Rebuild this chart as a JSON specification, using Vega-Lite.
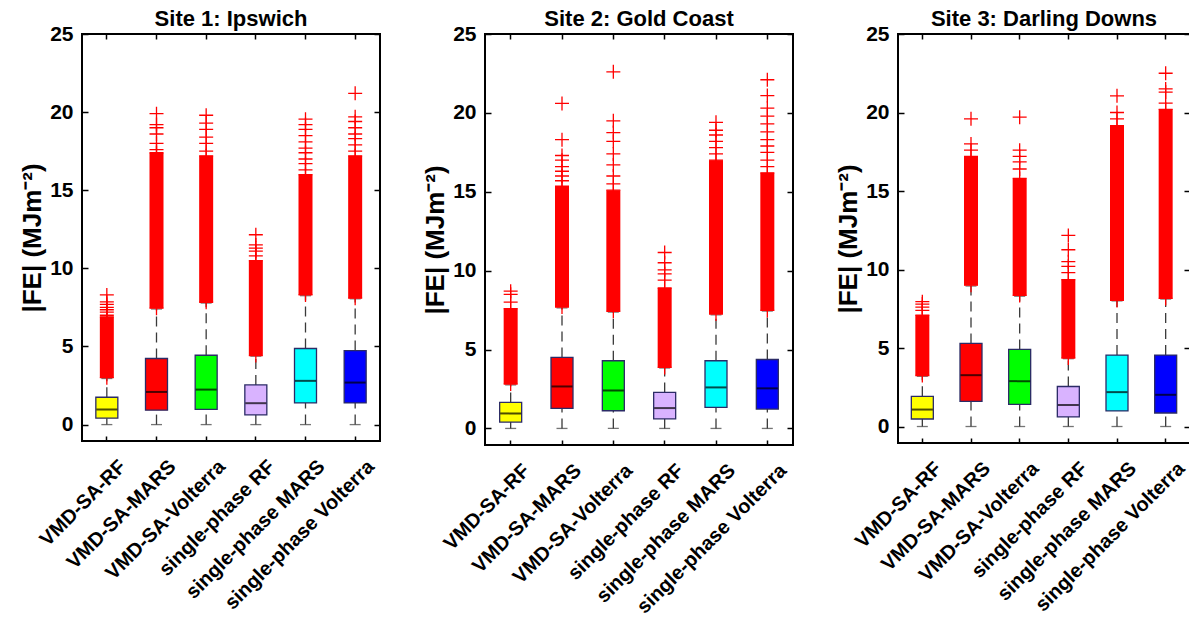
{
  "$schema": "https://vega.github.io/schema/vega-lite/v6.json",
  "padding": {"left": 18, "top": 7, "right": 0, "bottom": 0},
  "spacing": 39,
  "background": "white",
  "datasets": {
    "stats": [
      {"site": "Site 1: Ipswich", "model": "VMD-SA-RF", "lo": 0, "q1": 0.41, "med": 0.96, "q3": 1.75, "whi": 2.95, "olo": 3.0, "ohi": 6.9},
      {"site": "Site 1: Ipswich", "model": "VMD-SA-MARS", "lo": 0, "q1": 0.92, "med": 2.09, "q3": 4.23, "whi": 7.4, "olo": 7.45, "ohi": 17.4},
      {"site": "Site 1: Ipswich", "model": "VMD-SA-Volterra", "lo": 0, "q1": 0.98, "med": 2.24, "q3": 4.44, "whi": 7.78, "olo": 7.83, "ohi": 17.2},
      {"site": "Site 1: Ipswich", "model": "single-phase RF", "lo": 0, "q1": 0.62, "med": 1.37, "q3": 2.54, "whi": 4.38, "olo": 4.42, "ohi": 10.5},
      {"site": "Site 1: Ipswich", "model": "single-phase MARS", "lo": 0, "q1": 1.39, "med": 2.8, "q3": 4.87, "whi": 8.25, "olo": 8.3, "ohi": 16.0},
      {"site": "Site 1: Ipswich", "model": "single-phase Volterra", "lo": 0, "q1": 1.39, "med": 2.69, "q3": 4.74, "whi": 8.05, "olo": 8.09, "ohi": 17.2},
      {"site": "Site 2: Gold Coast", "model": "VMD-SA-RF", "lo": 0, "q1": 0.4, "med": 0.95, "q3": 1.65, "whi": 2.76, "olo": 2.81, "ohi": 7.6},
      {"site": "Site 2: Gold Coast", "model": "VMD-SA-MARS", "lo": 0, "q1": 1.27, "med": 2.66, "q3": 4.5, "whi": 7.64, "olo": 7.69, "ohi": 15.35},
      {"site": "Site 2: Gold Coast", "model": "VMD-SA-Volterra", "lo": 0, "q1": 1.12, "med": 2.41, "q3": 4.29, "whi": 7.38, "olo": 7.42, "ohi": 15.1},
      {"site": "Site 2: Gold Coast", "model": "single-phase RF", "lo": 0, "q1": 0.61, "med": 1.29, "q3": 2.28, "whi": 3.83, "olo": 3.87, "ohi": 8.9},
      {"site": "Site 2: Gold Coast", "model": "single-phase MARS", "lo": 0, "q1": 1.33, "med": 2.6, "q3": 4.29, "whi": 7.2, "olo": 7.25, "ohi": 17.0},
      {"site": "Site 2: Gold Coast", "model": "single-phase Volterra", "lo": 0, "q1": 1.23, "med": 2.54, "q3": 4.37, "whi": 7.44, "olo": 7.48, "ohi": 16.2},
      {"site": "Site 3: Darling Downs", "model": "VMD-SA-RF", "lo": 0, "q1": 0.48, "med": 1.08, "q3": 1.92, "whi": 3.2, "olo": 3.25, "ohi": 7.1},
      {"site": "Site 3: Darling Downs", "model": "VMD-SA-MARS", "lo": 0, "q1": 1.6, "med": 3.27, "q3": 5.29, "whi": 8.95, "olo": 9.0, "ohi": 17.2},
      {"site": "Site 3: Darling Downs", "model": "VMD-SA-Volterra", "lo": 0, "q1": 1.41, "med": 2.89, "q3": 4.91, "whi": 8.3, "olo": 8.35, "ohi": 15.8},
      {"site": "Site 3: Darling Downs", "model": "single-phase RF", "lo": 0, "q1": 0.61, "med": 1.37, "q3": 2.55, "whi": 4.32, "olo": 4.36, "ohi": 9.36},
      {"site": "Site 3: Darling Downs", "model": "single-phase MARS", "lo": 0, "q1": 0.99, "med": 2.19, "q3": 4.55, "whi": 8.0, "olo": 8.03, "ohi": 19.17},
      {"site": "Site 3: Darling Downs", "model": "single-phase Volterra", "lo": 0, "q1": 0.86, "med": 2.02, "q3": 4.55, "whi": 8.12, "olo": 8.16, "ohi": 20.2}
    ],
    "outliers": [
      {"site": "Site 1: Ipswich", "model": "VMD-SA-RF", "v": 7.0},
      {"site": "Site 1: Ipswich", "model": "VMD-SA-RF", "v": 7.2},
      {"site": "Site 1: Ipswich", "model": "VMD-SA-RF", "v": 7.35},
      {"site": "Site 1: Ipswich", "model": "VMD-SA-RF", "v": 7.5},
      {"site": "Site 1: Ipswich", "model": "VMD-SA-RF", "v": 7.7},
      {"site": "Site 1: Ipswich", "model": "VMD-SA-RF", "v": 7.85},
      {"site": "Site 1: Ipswich", "model": "VMD-SA-RF", "v": 8.3},
      {"site": "Site 1: Ipswich", "model": "VMD-SA-MARS", "v": 17.6},
      {"site": "Site 1: Ipswich", "model": "VMD-SA-MARS", "v": 18.0},
      {"site": "Site 1: Ipswich", "model": "VMD-SA-MARS", "v": 18.6},
      {"site": "Site 1: Ipswich", "model": "VMD-SA-MARS", "v": 19.0},
      {"site": "Site 1: Ipswich", "model": "VMD-SA-MARS", "v": 19.2},
      {"site": "Site 1: Ipswich", "model": "VMD-SA-MARS", "v": 19.9},
      {"site": "Site 1: Ipswich", "model": "VMD-SA-Volterra", "v": 17.5},
      {"site": "Site 1: Ipswich", "model": "VMD-SA-Volterra", "v": 18.0},
      {"site": "Site 1: Ipswich", "model": "VMD-SA-Volterra", "v": 18.4},
      {"site": "Site 1: Ipswich", "model": "VMD-SA-Volterra", "v": 18.9},
      {"site": "Site 1: Ipswich", "model": "VMD-SA-Volterra", "v": 19.3},
      {"site": "Site 1: Ipswich", "model": "VMD-SA-Volterra", "v": 19.8},
      {"site": "Site 1: Ipswich", "model": "single-phase RF", "v": 10.8},
      {"site": "Site 1: Ipswich", "model": "single-phase RF", "v": 11.1},
      {"site": "Site 1: Ipswich", "model": "single-phase RF", "v": 11.3},
      {"site": "Site 1: Ipswich", "model": "single-phase RF", "v": 11.5},
      {"site": "Site 1: Ipswich", "model": "single-phase RF", "v": 12.15},
      {"site": "Site 1: Ipswich", "model": "single-phase MARS", "v": 16.3},
      {"site": "Site 1: Ipswich", "model": "single-phase MARS", "v": 16.7},
      {"site": "Site 1: Ipswich", "model": "single-phase MARS", "v": 17.0},
      {"site": "Site 1: Ipswich", "model": "single-phase MARS", "v": 17.4},
      {"site": "Site 1: Ipswich", "model": "single-phase MARS", "v": 17.7},
      {"site": "Site 1: Ipswich", "model": "single-phase MARS", "v": 18.1},
      {"site": "Site 1: Ipswich", "model": "single-phase MARS", "v": 18.5},
      {"site": "Site 1: Ipswich", "model": "single-phase MARS", "v": 18.9},
      {"site": "Site 1: Ipswich", "model": "single-phase MARS", "v": 19.2},
      {"site": "Site 1: Ipswich", "model": "single-phase MARS", "v": 19.55},
      {"site": "Site 1: Ipswich", "model": "single-phase Volterra", "v": 17.5},
      {"site": "Site 1: Ipswich", "model": "single-phase Volterra", "v": 17.9},
      {"site": "Site 1: Ipswich", "model": "single-phase Volterra", "v": 18.3},
      {"site": "Site 1: Ipswich", "model": "single-phase Volterra", "v": 18.6},
      {"site": "Site 1: Ipswich", "model": "single-phase Volterra", "v": 19.0},
      {"site": "Site 1: Ipswich", "model": "single-phase Volterra", "v": 19.4},
      {"site": "Site 1: Ipswich", "model": "single-phase Volterra", "v": 19.7},
      {"site": "Site 1: Ipswich", "model": "single-phase Volterra", "v": 21.2},
      {"site": "Site 2: Gold Coast", "model": "VMD-SA-RF", "v": 8.0},
      {"site": "Site 2: Gold Coast", "model": "VMD-SA-RF", "v": 8.5},
      {"site": "Site 2: Gold Coast", "model": "VMD-SA-RF", "v": 8.7},
      {"site": "Site 2: Gold Coast", "model": "VMD-SA-MARS", "v": 15.7},
      {"site": "Site 2: Gold Coast", "model": "VMD-SA-MARS", "v": 16.0},
      {"site": "Site 2: Gold Coast", "model": "VMD-SA-MARS", "v": 16.3},
      {"site": "Site 2: Gold Coast", "model": "VMD-SA-MARS", "v": 16.6},
      {"site": "Site 2: Gold Coast", "model": "VMD-SA-MARS", "v": 17.0},
      {"site": "Site 2: Gold Coast", "model": "VMD-SA-MARS", "v": 17.3},
      {"site": "Site 2: Gold Coast", "model": "VMD-SA-MARS", "v": 18.3},
      {"site": "Site 2: Gold Coast", "model": "VMD-SA-MARS", "v": 20.6},
      {"site": "Site 2: Gold Coast", "model": "VMD-SA-Volterra", "v": 15.5},
      {"site": "Site 2: Gold Coast", "model": "VMD-SA-Volterra", "v": 16.0},
      {"site": "Site 2: Gold Coast", "model": "VMD-SA-Volterra", "v": 16.7},
      {"site": "Site 2: Gold Coast", "model": "VMD-SA-Volterra", "v": 17.4},
      {"site": "Site 2: Gold Coast", "model": "VMD-SA-Volterra", "v": 18.2},
      {"site": "Site 2: Gold Coast", "model": "VMD-SA-Volterra", "v": 18.75},
      {"site": "Site 2: Gold Coast", "model": "VMD-SA-Volterra", "v": 19.5},
      {"site": "Site 2: Gold Coast", "model": "VMD-SA-Volterra", "v": 22.6},
      {"site": "Site 2: Gold Coast", "model": "single-phase RF", "v": 9.4},
      {"site": "Site 2: Gold Coast", "model": "single-phase RF", "v": 9.8},
      {"site": "Site 2: Gold Coast", "model": "single-phase RF", "v": 10.05},
      {"site": "Site 2: Gold Coast", "model": "single-phase RF", "v": 10.5},
      {"site": "Site 2: Gold Coast", "model": "single-phase RF", "v": 11.15},
      {"site": "Site 2: Gold Coast", "model": "single-phase MARS", "v": 17.4},
      {"site": "Site 2: Gold Coast", "model": "single-phase MARS", "v": 17.8},
      {"site": "Site 2: Gold Coast", "model": "single-phase MARS", "v": 18.2},
      {"site": "Site 2: Gold Coast", "model": "single-phase MARS", "v": 18.6},
      {"site": "Site 2: Gold Coast", "model": "single-phase MARS", "v": 18.9},
      {"site": "Site 2: Gold Coast", "model": "single-phase MARS", "v": 19.4},
      {"site": "Site 2: Gold Coast", "model": "single-phase Volterra", "v": 16.6},
      {"site": "Site 2: Gold Coast", "model": "single-phase Volterra", "v": 17.0},
      {"site": "Site 2: Gold Coast", "model": "single-phase Volterra", "v": 17.5},
      {"site": "Site 2: Gold Coast", "model": "single-phase Volterra", "v": 17.9},
      {"site": "Site 2: Gold Coast", "model": "single-phase Volterra", "v": 18.3},
      {"site": "Site 2: Gold Coast", "model": "single-phase Volterra", "v": 18.8},
      {"site": "Site 2: Gold Coast", "model": "single-phase Volterra", "v": 19.3},
      {"site": "Site 2: Gold Coast", "model": "single-phase Volterra", "v": 19.8},
      {"site": "Site 2: Gold Coast", "model": "single-phase Volterra", "v": 20.3},
      {"site": "Site 2: Gold Coast", "model": "single-phase Volterra", "v": 21.1},
      {"site": "Site 2: Gold Coast", "model": "single-phase Volterra", "v": 22.1},
      {"site": "Site 3: Darling Downs", "model": "VMD-SA-RF", "v": 7.4},
      {"site": "Site 3: Darling Downs", "model": "VMD-SA-RF", "v": 7.6},
      {"site": "Site 3: Darling Downs", "model": "VMD-SA-RF", "v": 7.8},
      {"site": "Site 3: Darling Downs", "model": "VMD-SA-RF", "v": 7.95},
      {"site": "Site 3: Darling Downs", "model": "VMD-SA-MARS", "v": 17.6},
      {"site": "Site 3: Darling Downs", "model": "VMD-SA-MARS", "v": 18.0},
      {"site": "Site 3: Darling Downs", "model": "VMD-SA-MARS", "v": 19.6},
      {"site": "Site 3: Darling Downs", "model": "VMD-SA-Volterra", "v": 16.4},
      {"site": "Site 3: Darling Downs", "model": "VMD-SA-Volterra", "v": 16.85},
      {"site": "Site 3: Darling Downs", "model": "VMD-SA-Volterra", "v": 17.2},
      {"site": "Site 3: Darling Downs", "model": "VMD-SA-Volterra", "v": 17.6},
      {"site": "Site 3: Darling Downs", "model": "VMD-SA-Volterra", "v": 19.7},
      {"site": "Site 3: Darling Downs", "model": "single-phase RF", "v": 9.8},
      {"site": "Site 3: Darling Downs", "model": "single-phase RF", "v": 10.2},
      {"site": "Site 3: Darling Downs", "model": "single-phase RF", "v": 10.5},
      {"site": "Site 3: Darling Downs", "model": "single-phase RF", "v": 11.26},
      {"site": "Site 3: Darling Downs", "model": "single-phase RF", "v": 12.17},
      {"site": "Site 3: Darling Downs", "model": "single-phase MARS", "v": 19.6},
      {"site": "Site 3: Darling Downs", "model": "single-phase MARS", "v": 20.0},
      {"site": "Site 3: Darling Downs", "model": "single-phase MARS", "v": 21.06},
      {"site": "Site 3: Darling Downs", "model": "single-phase Volterra", "v": 20.6},
      {"site": "Site 3: Darling Downs", "model": "single-phase Volterra", "v": 21.3},
      {"site": "Site 3: Darling Downs", "model": "single-phase Volterra", "v": 21.5},
      {"site": "Site 3: Darling Downs", "model": "single-phase Volterra", "v": 22.5}
    ]
  },
  "hconcat": [
    {
      "width": 298, "height": 407,
      "title": "Site 1: Ipswich",
      "resolve": {"axis": {"x": "independent", "y": "independent"}},
      "layer": [
        {"data": {"name": "stats"}, "transform": [{"filter": "datum.site === 'Site 1: Ipswich'"}],
         "mark": {"type": "rule", "strokeDash": [10, 6], "color": "#3a3a3a", "strokeWidth": 1.3},
         "encoding": {
           "x": {"field": "model", "type": "nominal", "sort": null, "scale": {"domain": ["VMD-SA-RF", "VMD-SA-MARS", "VMD-SA-Volterra", "single-phase RF", "single-phase MARS", "single-phase Volterra"], "paddingInner": 0, "paddingOuter": 0}, "axis": {"orient": "bottom", "title": null, "labelAngle": -45, "labelAlign": "right", "labelBaseline": "top", "labelFontSize": 20, "labelPadding": 20, "labelOffset": 9, "labelLimit": 0, "tickSize": -5}},
           "y": {"field": "q3", "type": "quantitative", "scale": {"domain": [-1.05, 25], "nice": false, "zero": false}, "axis": {"orient": "left", "values": [0, 5, 10, 15, 20, 25], "title": "|FE| (MJm⁻²)", "titleFontSize": 26, "labelFontSize": 21, "tickSize": -6, "labelPadding": 15, "titlePadding": 4}},
           "y2": {"field": "whi"}}},
        {"data": {"name": "stats"}, "transform": [{"filter": "datum.site === 'Site 1: Ipswich'"}],
         "mark": {"type": "rule", "strokeDash": [10, 6], "color": "#3a3a3a", "strokeWidth": 1.3},
         "encoding": {
           "x": {"field": "model", "type": "nominal", "sort": null, "axis": {"orient": "top", "title": null, "labels": false, "tickSize": -5}},
           "y": {"field": "lo", "type": "quantitative", "axis": {"orient": "right", "values": [0, 5, 10, 15, 20, 25], "title": null, "labels": false, "tickSize": -6}},
           "y2": {"field": "q1"}}},
        {"data": {"name": "stats"}, "transform": [{"filter": "datum.site === 'Site 1: Ipswich'"}, {"fold": ["lo", "whi"], "as": ["k", "cap"]}],
         "mark": {"type": "tick", "color": "#3a3a3a", "size": 11, "thickness": 1.3},
         "encoding": {"x": {"field": "model", "type": "nominal", "sort": null, "axis": null}, "y": {"field": "cap", "type": "quantitative", "axis": null}}},
        {"data": {"name": "stats"}, "transform": [{"filter": "datum.site === 'Site 1: Ipswich'"}],
         "mark": {"type": "bar", "size": 22, "stroke": "#2b2b66", "strokeWidth": 1.3},
         "encoding": {"x": {"field": "model", "type": "nominal", "sort": null, "axis": null}, "y": {"field": "q1", "type": "quantitative", "axis": null}, "y2": {"field": "q3"},
           "color": {"field": "model", "type": "nominal", "scale": {"domain": ["VMD-SA-RF", "VMD-SA-MARS", "VMD-SA-Volterra", "single-phase RF", "single-phase MARS", "single-phase Volterra"], "range": ["#ffff00", "#ff0000", "#00ff00", "#d9b3ff", "#00ffff", "#0000ff"]}, "legend": null}}},
        {"data": {"name": "stats"}, "transform": [{"filter": "datum.site === 'Site 1: Ipswich'"}],
         "mark": {"type": "tick", "color": "black", "size": 21, "thickness": 2},
         "encoding": {"x": {"field": "model", "type": "nominal", "sort": null, "axis": null}, "y": {"field": "med", "type": "quantitative", "axis": null}}},
        {"data": {"name": "stats"}, "transform": [{"filter": "datum.site === 'Site 1: Ipswich'"}],
         "mark": {"type": "bar", "size": 14, "color": "#ff0000"},
         "encoding": {"x": {"field": "model", "type": "nominal", "sort": null, "axis": null}, "y": {"field": "olo", "type": "quantitative", "axis": null}, "y2": {"field": "ohi"}}},
        {"data": {"name": "stats"}, "transform": [{"filter": "datum.site === 'Site 1: Ipswich'"}, {"fold": ["olo", "ohi"], "as": ["k", "ov"]}],
         "mark": {"type": "point", "shape": "M-1,0H1M0,-1V1", "filled": false, "stroke": "#ff0000", "strokeWidth": 1.3, "size": 196, "opacity": 1},
         "encoding": {"x": {"field": "model", "type": "nominal", "sort": null, "axis": null}, "y": {"field": "ov", "type": "quantitative", "axis": null}}},
        {"data": {"name": "outliers"}, "transform": [{"filter": "datum.site === 'Site 1: Ipswich'"}],
         "mark": {"type": "point", "shape": "M-1,0H1M0,-1V1", "filled": false, "stroke": "#ff0000", "strokeWidth": 1.3, "size": 196, "opacity": 1},
         "encoding": {"x": {"field": "model", "type": "nominal", "sort": null, "axis": null}, "y": {"field": "v", "type": "quantitative", "axis": null}}}
      ]
    },
    {
      "width": 308, "height": 411,
      "title": "Site 2: Gold Coast",
      "resolve": {"axis": {"x": "independent", "y": "independent"}},
      "layer": [
        {"data": {"name": "stats"}, "transform": [{"filter": "datum.site === 'Site 2: Gold Coast'"}],
         "mark": {"type": "rule", "strokeDash": [10, 6], "color": "#3a3a3a", "strokeWidth": 1.3},
         "encoding": {
           "x": {"field": "model", "type": "nominal", "sort": null, "scale": {"domain": ["VMD-SA-RF", "VMD-SA-MARS", "VMD-SA-Volterra", "single-phase RF", "single-phase MARS", "single-phase Volterra"], "paddingInner": 0, "paddingOuter": 0}, "axis": {"orient": "bottom", "title": null, "labelAngle": -45, "labelAlign": "right", "labelBaseline": "top", "labelFontSize": 20, "labelPadding": 20, "labelOffset": 9, "labelLimit": 0, "tickSize": -5}},
           "y": {"field": "q3", "type": "quantitative", "scale": {"domain": [-1.05, 25], "nice": false, "zero": false}, "axis": {"orient": "left", "values": [0, 5, 10, 15, 20, 25], "title": "|FE| (MJm⁻²)", "titleFontSize": 26, "labelFontSize": 21, "tickSize": -6, "labelPadding": 15, "titlePadding": 4}},
           "y2": {"field": "whi"}}},
        {"data": {"name": "stats"}, "transform": [{"filter": "datum.site === 'Site 2: Gold Coast'"}],
         "mark": {"type": "rule", "strokeDash": [10, 6], "color": "#3a3a3a", "strokeWidth": 1.3},
         "encoding": {
           "x": {"field": "model", "type": "nominal", "sort": null, "axis": {"orient": "top", "title": null, "labels": false, "tickSize": -5}},
           "y": {"field": "lo", "type": "quantitative", "axis": {"orient": "right", "values": [0, 5, 10, 15, 20, 25], "title": null, "labels": false, "tickSize": -6}},
           "y2": {"field": "q1"}}},
        {"data": {"name": "stats"}, "transform": [{"filter": "datum.site === 'Site 2: Gold Coast'"}, {"fold": ["lo", "whi"], "as": ["k", "cap"]}],
         "mark": {"type": "tick", "color": "#3a3a3a", "size": 11, "thickness": 1.3},
         "encoding": {"x": {"field": "model", "type": "nominal", "sort": null, "axis": null}, "y": {"field": "cap", "type": "quantitative", "axis": null}}},
        {"data": {"name": "stats"}, "transform": [{"filter": "datum.site === 'Site 2: Gold Coast'"}],
         "mark": {"type": "bar", "size": 22, "stroke": "#2b2b66", "strokeWidth": 1.3},
         "encoding": {"x": {"field": "model", "type": "nominal", "sort": null, "axis": null}, "y": {"field": "q1", "type": "quantitative", "axis": null}, "y2": {"field": "q3"},
           "color": {"field": "model", "type": "nominal", "legend": null}}},
        {"data": {"name": "stats"}, "transform": [{"filter": "datum.site === 'Site 2: Gold Coast'"}],
         "mark": {"type": "tick", "color": "black", "size": 21, "thickness": 2},
         "encoding": {"x": {"field": "model", "type": "nominal", "sort": null, "axis": null}, "y": {"field": "med", "type": "quantitative", "axis": null}}},
        {"data": {"name": "stats"}, "transform": [{"filter": "datum.site === 'Site 2: Gold Coast'"}],
         "mark": {"type": "bar", "size": 14, "color": "#ff0000"},
         "encoding": {"x": {"field": "model", "type": "nominal", "sort": null, "axis": null}, "y": {"field": "olo", "type": "quantitative", "axis": null}, "y2": {"field": "ohi"}}},
        {"data": {"name": "stats"}, "transform": [{"filter": "datum.site === 'Site 2: Gold Coast'"}, {"fold": ["olo", "ohi"], "as": ["k", "ov"]}],
         "mark": {"type": "point", "shape": "M-1,0H1M0,-1V1", "filled": false, "stroke": "#ff0000", "strokeWidth": 1.3, "size": 196, "opacity": 1},
         "encoding": {"x": {"field": "model", "type": "nominal", "sort": null, "axis": null}, "y": {"field": "ov", "type": "quantitative", "axis": null}}},
        {"data": {"name": "outliers"}, "transform": [{"filter": "datum.site === 'Site 2: Gold Coast'"}],
         "mark": {"type": "point", "shape": "M-1,0H1M0,-1V1", "filled": false, "stroke": "#ff0000", "strokeWidth": 1.3, "size": 196, "opacity": 1},
         "encoding": {"x": {"field": "model", "type": "nominal", "sort": null, "axis": null}, "y": {"field": "v", "type": "quantitative", "axis": null}}}
      ]
    },
    {
      "width": 292, "height": 409,
      "title": "Site 3: Darling Downs",
      "resolve": {"axis": {"x": "independent", "y": "independent"}},
      "layer": [
        {"data": {"name": "stats"}, "transform": [{"filter": "datum.site === 'Site 3: Darling Downs'"}],
         "mark": {"type": "rule", "strokeDash": [10, 6], "color": "#3a3a3a", "strokeWidth": 1.3},
         "encoding": {
           "x": {"field": "model", "type": "nominal", "sort": null, "scale": {"domain": ["VMD-SA-RF", "VMD-SA-MARS", "VMD-SA-Volterra", "single-phase RF", "single-phase MARS", "single-phase Volterra"], "paddingInner": 0, "paddingOuter": 0}, "axis": {"orient": "bottom", "title": null, "labelAngle": -45, "labelAlign": "right", "labelBaseline": "top", "labelFontSize": 20, "labelPadding": 20, "labelOffset": 9, "labelLimit": 0, "tickSize": -5}},
           "y": {"field": "q3", "type": "quantitative", "scale": {"domain": [-1.05, 25], "nice": false, "zero": false}, "axis": {"orient": "left", "values": [0, 5, 10, 15, 20, 25], "title": "|FE| (MJm⁻²)", "titleFontSize": 26, "labelFontSize": 21, "tickSize": -6, "labelPadding": 15, "titlePadding": 4}},
           "y2": {"field": "whi"}}},
        {"data": {"name": "stats"}, "transform": [{"filter": "datum.site === 'Site 3: Darling Downs'"}],
         "mark": {"type": "rule", "strokeDash": [10, 6], "color": "#3a3a3a", "strokeWidth": 1.3},
         "encoding": {
           "x": {"field": "model", "type": "nominal", "sort": null, "axis": {"orient": "top", "title": null, "labels": false, "tickSize": -5}},
           "y": {"field": "lo", "type": "quantitative", "axis": {"orient": "right", "values": [0, 5, 10, 15, 20, 25], "title": null, "labels": false, "tickSize": -6}},
           "y2": {"field": "q1"}}},
        {"data": {"name": "stats"}, "transform": [{"filter": "datum.site === 'Site 3: Darling Downs'"}, {"fold": ["lo", "whi"], "as": ["k", "cap"]}],
         "mark": {"type": "tick", "color": "#3a3a3a", "size": 11, "thickness": 1.3},
         "encoding": {"x": {"field": "model", "type": "nominal", "sort": null, "axis": null}, "y": {"field": "cap", "type": "quantitative", "axis": null}}},
        {"data": {"name": "stats"}, "transform": [{"filter": "datum.site === 'Site 3: Darling Downs'"}],
         "mark": {"type": "bar", "size": 22, "stroke": "#2b2b66", "strokeWidth": 1.3},
         "encoding": {"x": {"field": "model", "type": "nominal", "sort": null, "axis": null}, "y": {"field": "q1", "type": "quantitative", "axis": null}, "y2": {"field": "q3"},
           "color": {"field": "model", "type": "nominal", "legend": null}}},
        {"data": {"name": "stats"}, "transform": [{"filter": "datum.site === 'Site 3: Darling Downs'"}],
         "mark": {"type": "tick", "color": "black", "size": 21, "thickness": 2},
         "encoding": {"x": {"field": "model", "type": "nominal", "sort": null, "axis": null}, "y": {"field": "med", "type": "quantitative", "axis": null}}},
        {"data": {"name": "stats"}, "transform": [{"filter": "datum.site === 'Site 3: Darling Downs'"}],
         "mark": {"type": "bar", "size": 14, "color": "#ff0000"},
         "encoding": {"x": {"field": "model", "type": "nominal", "sort": null, "axis": null}, "y": {"field": "olo", "type": "quantitative", "axis": null}, "y2": {"field": "ohi"}}},
        {"data": {"name": "stats"}, "transform": [{"filter": "datum.site === 'Site 3: Darling Downs'"}, {"fold": ["olo", "ohi"], "as": ["k", "ov"]}],
         "mark": {"type": "point", "shape": "M-1,0H1M0,-1V1", "filled": false, "stroke": "#ff0000", "strokeWidth": 1.3, "size": 196, "opacity": 1},
         "encoding": {"x": {"field": "model", "type": "nominal", "sort": null, "axis": null}, "y": {"field": "ov", "type": "quantitative", "axis": null}}},
        {"data": {"name": "outliers"}, "transform": [{"filter": "datum.site === 'Site 3: Darling Downs'"}],
         "mark": {"type": "point", "shape": "M-1,0H1M0,-1V1", "filled": false, "stroke": "#ff0000", "strokeWidth": 1.3, "size": 196, "opacity": 1},
         "encoding": {"x": {"field": "model", "type": "nominal", "sort": null, "axis": null}, "y": {"field": "v", "type": "quantitative", "axis": null}}}
      ]
    }
  ],
  "config": {
    "view": {"stroke": "black", "strokeWidth": 2},
    "font": "Liberation Sans",
    "axis": {"labelFont": "Liberation Sans", "labelFontWeight": "bold", "labelColor": "black", "titleFont": "Liberation Sans", "titleFontWeight": "bold", "titleColor": "black", "tickColor": "black", "tickWidth": 1.5, "domain": false, "grid": false},
    "title": {"font": "Liberation Sans", "fontWeight": "bold", "fontSize": 22, "color": "black", "offset": -8}
  }
}
